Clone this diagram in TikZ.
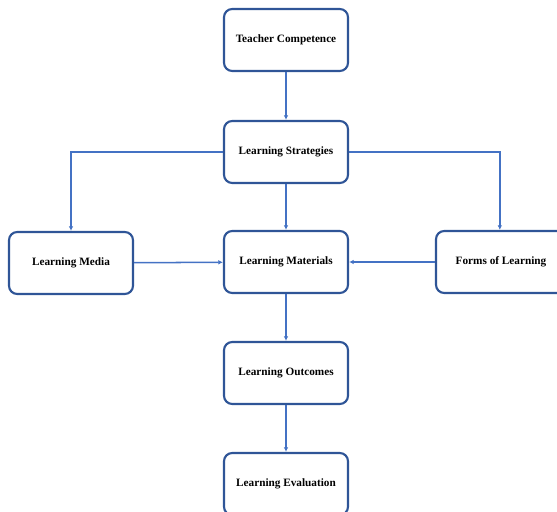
\documentclass[tikz,border=0pt]{standalone}
\usepackage{fontspec}
\setmainfont{Liberation Serif}
\usetikzlibrary{arrows.meta}
\definecolor{boxblue}{HTML}{2F5597}
\definecolor{linkblue}{HTML}{4472C4}
\tikzset{
  stagebox/.style={draw=boxblue, line width=1.8pt, rounded corners=7pt, fill=white,
    minimum width=3.72cm, minimum height=1.86cm, font=\bfseries\fontsize{9.6}{11}\selectfont},
  link/.style={draw=linkblue, line width=1.3pt, -{Latex[length=4pt,width=4pt]}}
}
\begin{document}
\begin{tikzpicture}[x=0.03cm, y=-0.03cm]
  \useasboundingbox (0,0) rectangle (557,512);
  % Top of the chain
  \node[stagebox] (tc) at (286,40) {Teacher Competence};
  \node[stagebox] (ls) at (286,152) {Learning Strategies};

  % Middle row
  \node[stagebox] (lm) at (71,263) {Learning Media};
  \node[stagebox] (lmat) at (286,262) {Learning Materials};
  \node[stagebox, minimum width=3.9cm] (fl) at (501,262) {Forms of Learning};

  % Bottom of the chain
  \node[stagebox] (lo) at (286,373) {Learning Outcomes};
  \node[stagebox] (le) at (286,484) {Learning Evaluation};

  % Connectors
  \draw[link] (tc) -- (ls);
  \draw[link] (ls.west) -| (lm.north);
  \draw[link] (ls.east) -| ([xshift=-1]fl.north);
  \draw[link] (ls) -- (lmat);
  \draw[link] (lm) -- (lmat);
  \draw[link] (fl) -- (lmat);
  \draw[link] (lmat) -- (lo);
  \draw[link] (lo) -- (le);
\end{tikzpicture}
\end{document}
